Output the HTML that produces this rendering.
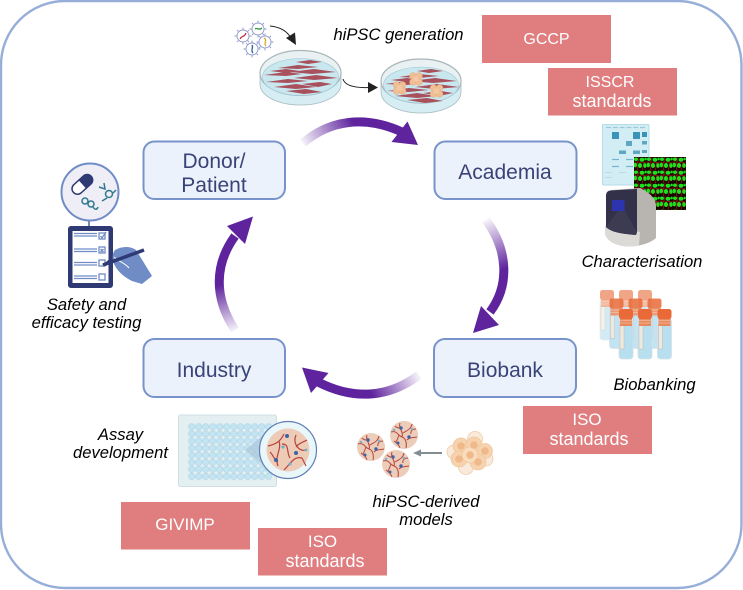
<!DOCTYPE html>
<html><head><meta charset="utf-8"><style>
html,body{margin:0;padding:0;background:#fff}
svg{display:block}
text{font-family:"Liberation Sans",Arial,sans-serif}
.n{font-size:21px;fill:#3a4377;text-anchor:middle}
.r{font-size:17px;fill:#fff;text-anchor:middle}
.s{font-size:18px;fill:#fff;text-anchor:middle}
.i{font-size:16.6px;font-style:italic;fill:#000;text-anchor:middle}
</style></head><body>
<svg width="743" height="590" viewBox="0 0 743 590" xmlns="http://www.w3.org/2000/svg">
<defs>
<linearGradient id="g1" gradientUnits="userSpaceOnUse" x1="303" y1="145" x2="352" y2="120"><stop offset="0" stop-color="#5e239d" stop-opacity=".05"/><stop offset="1" stop-color="#5e239d"/></linearGradient>
<linearGradient id="g2" gradientUnits="userSpaceOnUse" x1="486" y1="220" x2="507" y2="268"><stop offset="0" stop-color="#5e239d" stop-opacity=".05"/><stop offset="1" stop-color="#5e239d"/></linearGradient>
<linearGradient id="g3" gradientUnits="userSpaceOnUse" x1="419" y1="375" x2="372" y2="396"><stop offset="0" stop-color="#5e239d" stop-opacity=".05"/><stop offset="1" stop-color="#5e239d"/></linearGradient>
<linearGradient id="g4" gradientUnits="userSpaceOnUse" x1="235" y1="331" x2="219" y2="285"><stop offset="0" stop-color="#5e239d" stop-opacity=".05"/><stop offset="1" stop-color="#5e239d"/></linearGradient>
<pattern id="wells" patternUnits="userSpaceOnUse" x="188.2" y="423.3" width="7" height="7.1"><circle cx="3.5" cy="3.5" r="3.2" fill="#c3e5f3" stroke="#a9cfdf" stroke-width=".5"/></pattern>
<pattern id="cells" patternUnits="userSpaceOnUse" x="634" y="157" width="13" height="13">
<rect width="13" height="13" fill="#1a0300"/>
<ellipse cx="2" cy="2.200" rx="2" ry="1.700" fill="#1fe01f"/><ellipse cx="8" cy="2.700" rx="2.500" ry="2" fill="#1fe01f"/><ellipse cx="1.300" cy="8" rx="1.700" ry="2.400" fill="#1fe01f"/><ellipse cx="6" cy="8.500" rx="2.100" ry="2.500" fill="#1fe01f"/><ellipse cx="11" cy="8.500" rx="1.800" ry="2.400" fill="#1fe01f"/><ellipse cx="11.700" cy="2" rx="1.100" ry="1.400" fill="#1fe01f"/>
<path d="M0 5L4 5 10 5.500 13 5M4 5L5 0M9.500 5.500L8.500 13M3.500 5L3.500 13" stroke="#c01c1c" stroke-width=".6" fill="none"/>
</pattern>
<g id="virus" fill="none">
<g stroke="#8d97c9" stroke-width=".9"><path d="M0-6.500V-8.500M0 6.500V8.500M-6.500 0H-8.500M6.500 0H8.500M-4.600-4.600L-6-6M4.600 4.600L6 6M-4.600 4.600L-6 6M4.600-4.600L6-6"/><circle r="6" fill="#fff"/></g>
</g>
<g id="organoid">
<circle r="14" fill="#eccdb9"/>
<g fill="none" stroke="#b8463c" stroke-width="1"><path d="M-13-3C-7-5-6 1-2 2S3 9 2 13M-2 2C0-3-6-7-4-12M-1-2C4-5 7-6 8-11M3 5C6 2 9 3 13 2M-8 7C-6 4-6 2-5 0M-10 6C-6 9-5 10-4 13M7-1C6-5 10-6 12-6M-9-9C-7-7-6-7-4-7"/></g>
<circle cx="-3" cy="-7" r="1.700" fill="#3d62a6"/><circle cx="5" cy="2" r="1.700" fill="#3d62a6"/><circle cx="-6" cy="8" r="1.500" fill="#3d62a6"/><circle cx="-10" cy="-5" r="1.300" fill="#7fb2c8"/><circle cx="8" cy="-6" r="1.300" fill="#7fb2c8"/>
</g>
<g id="col">
<circle cx="-3" cy="-3" r="3.400" fill="#f0be94" stroke="#e5a97c" stroke-width=".5"/><circle cx="3" cy="-3" r="3.400" fill="#f0be94" stroke="#e5a97c" stroke-width=".5"/><circle cx="-3" cy="3" r="3.400" fill="#f0be94" stroke="#e5a97c" stroke-width=".5"/><circle cx="3" cy="3" r="3.400" fill="#f0be94" stroke="#e5a97c" stroke-width=".5"/><circle r="2.800" fill="#f4c8a4"/>
</g>
<g id="fib" fill="#a8505c">
<path d="M-36-1L-14-4 2-2-14 0ZM-22-8L-2-11 18-9-2-7ZM-10-4L14-7 36-4 12-2ZM-34 6L-12 3 8 5-12 7ZM-6 2L16-1 38 2 14 4ZM-26 11L-4 8 16 11-4 13ZM2 8L20 6 32 8 18 11ZM-14 15L6 13 22 16 4 18ZM-4-14L10-16 22-14 8-12ZM-30-5L-14-7 0-5-14-3Z"/>
</g>
<g id="tube">
<rect x="0" y="9" width="14" height="41" rx="3" fill="#b7dff0" stroke="#d9dfe3" stroke-width=".8"/>
<rect x="1" y="15" width="4" height="25" fill="#eee9df" stroke="#b5b0a5" stroke-width=".4"/>
<rect x="1" y="9" width="12" height="8" fill="#e88a5e"/>
<path d="M1 11.500H13M1 14H13" stroke="#f5b89a" stroke-width=".8"/>
<rect x="0" y="0" width="14" height="10" rx="2.500" fill="#e96a38"/>
</g>
</defs>
<rect width="743" height="590" fill="#fff"/>
<rect x="1" y="1" width="740.500" height="587" rx="64" fill="#fff" stroke="#97aed9" stroke-width="2.400"/>

<!-- dishes -->
<g>
<path d="M260 73V84C260 96 278 105 300.500 105S341 96 341 84V73Z" fill="#d5edf3" stroke="#a9bcc1" stroke-width=".8"/>
<ellipse cx="300.500" cy="73" rx="40.500" ry="22.500" fill="#e9f1f3" stroke="#a9b5b8" stroke-width="1.200"/>
<ellipse cx="300.500" cy="77" rx="38" ry="18.500" fill="#c8e7ef" stroke="#9cc7d2" stroke-width=".6"/>
<use href="#fib" x="300" y="76"/>
<path d="M381 81V92C381 104 399 113 421 113S461 104 461 92V81Z" fill="#d5edf3" stroke="#a9bcc1" stroke-width=".8"/>
<ellipse cx="421" cy="81" rx="40" ry="22" fill="#e9f1f3" stroke="#a9b5b8" stroke-width="1.200"/>
<ellipse cx="421" cy="85" rx="37.500" ry="18" fill="#c8e7ef" stroke="#9cc7d2" stroke-width=".6"/>
<use href="#fib" x="421" y="85"/>
<use href="#col" x="399.500" y="88"/><use href="#col" x="416" y="79"/><use href="#col" x="436.500" y="91"/>
</g>
<!-- viruses -->
<use href="#virus" x="243" y="36"/><use href="#virus" x="258" y="29"/><use href="#virus" x="265" y="42"/><use href="#virus" x="252" y="49"/>
<path d="M240 39C242 35 244 38 246 33" stroke="#c0283a" stroke-width="1.300" fill="none"/>
<path d="M255 29C257 27 259 31 262 28" stroke="#2f9a44" stroke-width="1.300" fill="none"/>
<path d="M264 38C268 40 263 43 266 46" stroke="#e0a820" stroke-width="1.300" fill="none"/>
<path d="M252 45C254 48 250 50 253 53" stroke="#2a62b0" stroke-width="1.300" fill="none"/>
<!-- black arrows -->
<path d="M270 26C280 27 287 31 291 38" stroke="#222" stroke-width="1" fill="none"/>
<path d="M296 45L286 38 295 32.500Z" fill="#222"/>
<path d="M343 79C345 86 355 88 369 87.500" stroke="#222" stroke-width="1" fill="none"/>
<path d="M378 87.500L368 82V93Z" fill="#222"/>

<!-- purple arrows -->
<path d="M303 143C330 120 365 115 402 132" stroke="url(#g1)" stroke-width="9" fill="none"/>
<path d="M418 145L407.500 121.500 391.500 142Z" fill="#5e239d"/>
<path d="M486 220C508 250 510 285 490 312" stroke="url(#g2)" stroke-width="9" fill="none"/>
<path d="M473 333L499 325 481 306Z" fill="#5e239d"/>
<path d="M419 375C390 397 355 401 318 382" stroke="url(#g3)" stroke-width="9" fill="none"/>
<path d="M302 367.500L328.500 373 311 393Z" fill="#5e239d"/>
<path d="M235 330C214 298 214 265 235 236" stroke="url(#g4)" stroke-width="9" fill="none"/>
<path d="M253 216.500L227 226 245 244Z" fill="#5e239d"/>

<!-- nodes -->
<g fill="#ebf2fb" stroke="#7893cb" stroke-width="2">
<rect x="143.500" y="141.500" width="141.500" height="57.500" rx="11"/>
<rect x="434.500" y="141.500" width="142" height="57.500" rx="11"/>
<rect x="434" y="339" width="142" height="58" rx="11"/>
<rect x="143.500" y="339" width="141.500" height="58" rx="11"/>
</g>
<text class="n" x="214" y="168">Donor/</text>
<text class="n" x="214" y="192">Patient</text>
<text class="n" x="505" y="179">Academia</text>
<text class="n" x="505" y="377">Biobank</text>
<text class="n" x="214" y="377">Industry</text>

<!-- red boxes -->
<g fill="#df7d7f">
<rect x="482" y="15" width="129" height="48"/>
<rect x="548" y="68" width="129" height="47.500"/>
<rect x="523" y="406" width="129" height="48"/>
<rect x="121" y="502" width="129" height="47.500"/>
<rect x="258" y="528" width="129" height="47.500"/>
</g>
<text class="r" x="546.500" y="44" style="font-size:16px">GCCP</text>
<text class="r" x="610" y="87" style="font-size:16px">ISSCR</text>
<text class="s" x="612" y="107">standards</text>
<text class="r" x="587" y="425">ISO</text>
<text class="s" x="589" y="445">standards</text>
<text class="r" x="185" y="530">GIVIMP</text>
<text class="r" x="322.500" y="547">ISO</text>
<text class="s" x="325" y="567">standards</text>

<!-- labels -->
<text class="i" x="398.500" y="40">hiPSC generation</text>
<text class="i" x="642" y="267">Characterisation</text>
<text class="i" x="654.500" y="390">Biobanking</text>
<text class="i" x="86.500" y="310">Safety and</text>
<text class="i" x="86.500" y="328">efficacy testing</text>
<text class="i" x="120.500" y="440">Assay</text>
<text class="i" x="120.500" y="458">development</text>
<text class="i" x="426" y="507">hiPSC-derived</text>
<text class="i" x="426" y="525">models</text>

<!-- characterisation -->
<rect x="602.500" y="124.500" width="46.500" height="60.500" rx="1" fill="#d3edf4" stroke="#b5dbe6"/>
<path d="M606 127.500H646" stroke="#9cc8d8" stroke-width="1.300" stroke-dasharray="5 1.800"/>
<g fill="#3a94b8"><rect x="612" y="132" width="7" height="7"/><rect x="633" y="132" width="7" height="7"/><rect x="642" y="132" width="5" height="5"/></g>
<g fill="#5fa6c2"><rect x="626" y="141" width="6" height="5"/><rect x="642" y="141" width="5" height="3.500"/><rect x="619" y="150.500" width="7" height="3.500"/><rect x="633" y="150.500" width="7" height="3.500"/><rect x="642" y="150" width="5" height="3"/></g>
<path d="M612 159.500H619M626 159.500H633M612 166.500H619M626 166.500H633" stroke="#74b6d0" stroke-width="1.200"/>
<path d="M605 172.500H612M619 172.500H626M605 177.500H612" stroke="#bfdbe2" stroke-width="1"/>
<rect x="634" y="157" width="52" height="53" fill="url(#cells)"/>
<path d="M611 190L640 188C652 194 656 200 656 206V238C650 243 642 246 628 246.500 616 246 607 241 605 234Z" fill="#b8b5b0"/>
<path d="M605 226L640 232 639 246 628 246.500C616 246 607 241 605 234Z" fill="#dcdad6"/>
<path d="M610 190.500L637 189V232L636 235C625 234 612 233 606 227V196C606 192 608 191 610 190.500Z" fill="#33314a"/>
<path d="M606 227L622 206 637 232 636 235C625 234 612 233 606 227Z" fill="#3d3b52"/>
<rect x="612" y="200" width="12.500" height="11" fill="#2c34b0"/>

<!-- tubes -->
<g opacity=".6"><use href="#tube" x="600" y="290"/><use href="#tube" x="619" y="290"/><use href="#tube" x="638" y="290"/></g>
<g opacity=".85"><use href="#tube" x="609.500" y="298.500"/><use href="#tube" x="628.500" y="298.500"/><use href="#tube" x="647.500" y="298.500"/></g>
<use href="#tube" x="619" y="309"/><use href="#tube" x="638" y="309"/><use href="#tube" x="657.500" y="309"/>

<!-- safety icon -->
<circle cx="90" cy="192" r="28.500" fill="#efedf6" stroke="#6f8cc6" stroke-width="2"/>
<path d="M89 220V226" stroke="#6f8cc6" stroke-width="2"/>
<g transform="rotate(-42 82 184)"><rect x="70" y="179" width="24" height="11" rx="5.500" fill="#fff" stroke="#2f3a75" stroke-width="1.500"/><path d="M82 179H88.500C92 179 94 182 94 184.500S92 190 88.500 190H82Z" fill="#2f3a75"/></g>
<g fill="none" stroke="#2f7a8c" stroke-width="1.500"><circle cx="109" cy="194" r="3.500"/><path d="M99 187L105 189 104 183M107 198L102 201M113 193L116 190"/><circle cx="85" cy="201" r="3"/><circle cx="91" cy="204" r="3"/><path d="M93 207C95 210 97 210 98 207"/></g>
<rect x="68" y="226" width="45" height="62" rx="3" fill="#2f3a75"/>
<rect x="72.500" y="231" width="36" height="52" fill="#fff"/>
<g stroke="#6f8cc6" stroke-width="1.300" fill="none">
<path d="M74 233.500H97M74 236H97M74 249H97M74 251.500H97M74 262.500H97M74 265H97M74 276H97M74 278.500H97"/>
<rect x="99" y="233" width="6" height="6"/><rect x="99" y="247" width="6" height="6"/><rect x="99" y="260" width="6" height="6"/><rect x="99" y="274" width="6" height="6"/>
<path d="M100.500 249L103.500 252M103.500 249L100.500 252M100.500 236L102 238 106 232"/>
</g>
<path d="M115 250C122 246 130 246 136 250L141 258 152 276 142 284 132 281C124 277 118 272 114 264 112 258 112 254 115 250Z" fill="#6f8cc6"/>
<path d="M114 257C119 262 124 262 129 268" stroke="#fff" stroke-width="1" fill="none"/>
<path d="M103 265L144 250" stroke="#2f3a75" stroke-width="3.500"/>
<path d="M102 265L111 258 113 263Z" fill="#2f3a75"/>

<!-- plate -->
<rect x="178.500" y="415" width="98" height="71.500" rx="2" fill="#e4eff2" stroke="#cfdfe3"/>
<rect x="188.200" y="423.300" width="84" height="56.800" fill="url(#wells)"/>
<path d="M245 450L272 428V472Z" fill="#a9c8dc" opacity=".7"/>
<circle cx="288" cy="450" r="28.500" fill="#e9f7fb" stroke="#5f7fb6" stroke-width="1.200"/>
<circle cx="288" cy="450" r="21.500" fill="#edcbb6"/>
<g fill="none" stroke="#b8433a" stroke-width="1.200"><path d="M268 446C276 444 280 442 284 434M279 441C282 450 274 456 278 466M296 435C292 444 300 452 305 450M284 470C292 462 294 456 302 458M290 458C286 452 290 444 282 444M302 458L306 466M270 452C274 456 274 460 278 462M296 447C300 442 304 442 307 440"/></g>
<circle cx="287" cy="436" r="2" fill="#3d62a6"/><circle cx="296" cy="453" r="2" fill="#3d62a6"/><circle cx="276" cy="460" r="2" fill="#3d62a6"/><circle cx="283" cy="447" r="1.600" fill="#6fb0ca"/><circle cx="306" cy="450" r="1.400" fill="#6fb0ca"/><circle cx="290" cy="464" r="1.500" fill="#6fb0ca"/>

<!-- organoids -->
<use href="#organoid" x="371" y="447"/><use href="#organoid" x="404" y="435"/><use href="#organoid" x="396" y="464"/>
<path d="M442 453H420" stroke="#838d94" stroke-width="2"/>
<path d="M413 453L421 449.500V456.500Z" fill="#838d94"/>
<g stroke="#eec79b" stroke-width=".7">
<circle cx="475" cy="439" r="7.500" fill="#faeadb"/><circle cx="486" cy="459" r="7" fill="#faeadb"/><circle cx="466" cy="467" r="7.500" fill="#faeadb"/><circle cx="454" cy="452" r="7" fill="#faeadb"/>
<circle cx="461" cy="446" r="8" fill="#f6d3ae"/><circle cx="474" cy="445" r="8" fill="#f6d3ae"/><circle cx="485" cy="451" r="7.500" fill="#f6d3ae"/><circle cx="459" cy="459" r="8" fill="#f6d3ae"/><circle cx="478" cy="462" r="8" fill="#f6d3ae"/><circle cx="470" cy="455" r="8" fill="#f8dcbc"/>
</g>
<g fill="#f0b98c"><circle cx="461" cy="446" r="3.800"/><circle cx="474" cy="445" r="3.800"/><circle cx="485" cy="451" r="3.800"/><circle cx="459" cy="459" r="3.800"/><circle cx="478" cy="462" r="3.800"/><circle cx="470" cy="455" r="3.800"/></g>
</svg>
</body></html>
